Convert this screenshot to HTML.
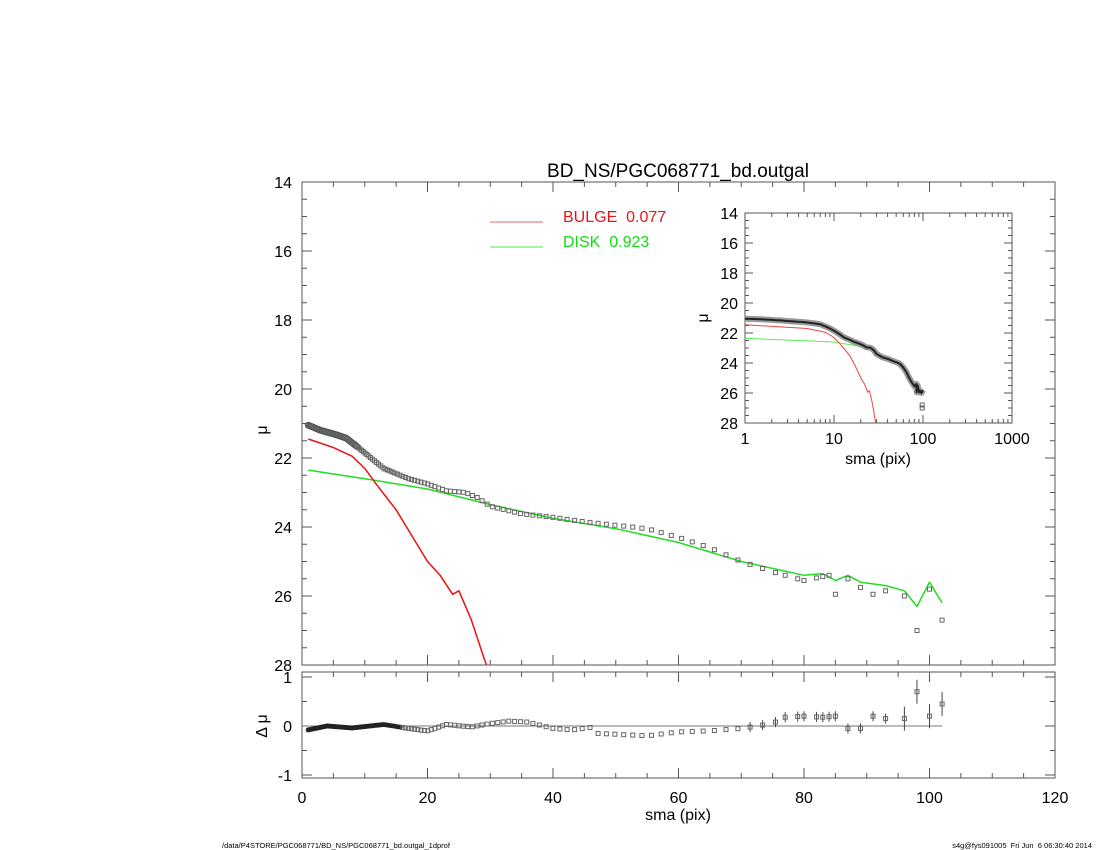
<!DOCTYPE html>
<html><head><meta charset="utf-8"><style>
html,body{margin:0;padding:0;background:#fff}
svg{display:block;font-family:"Liberation Sans",sans-serif}
</style></head><body>
<svg id="s" width="1100" height="850" xmlns="http://www.w3.org/2000/svg">
<rect width="1100" height="850" fill="#fff"/>
<text x="678" y="177" font-size="19" text-anchor="middle">BD_NS/PGC068771_bd.outgal</text>
<line x1="490" y1="222" x2="543" y2="222" stroke="#e66" stroke-width="1"/>
<text x="563" y="222" font-size="16" fill="#e11">BULGE&#160; 0.077</text>
<line x1="490" y1="247" x2="543" y2="247" stroke="#4e4" stroke-width="1"/>
<text x="563" y="247" font-size="16" fill="#1d1">DISK&#160; 0.923</text>
<text x="678" y="820" font-size="16" text-anchor="middle">sma (pix)</text>
<text x="267" y="430" font-size="16" text-anchor="middle" transform="rotate(-90 267 430)">μ</text>
<text x="267" y="726" font-size="16" text-anchor="middle" transform="rotate(-90 267 726)">Δ μ</text>
<text x="878" y="464" font-size="16" text-anchor="middle">sma (pix)</text>
<text x="708" y="318" font-size="16" text-anchor="middle" transform="rotate(-90 708 318)">μ</text>
<text x="222" y="848" font-size="7.5">/data/P4STORE/PGC068771/BD_NS/PGC068771_bd.outgal_1dprof</text>
<text x="1092" y="848" font-size="7.5" text-anchor="end">s4g@fys091005&#160; Fri Jun&#160; 6 06:30:40 2014</text>
<g id="g"></g>
</svg>
<script>
var g=document.getElementById('g'),h='';
function L(x1,y1,x2,y2,c,w){h+='<line x1="'+x1+'" y1="'+y1+'" x2="'+x2+'" y2="'+y2+'" stroke="'+(c||'#555')+'" stroke-width="'+(w||1)+'"/>';}
function T(x,y,t,s,a){h+='<text x="'+x+'" y="'+y+'" font-size="'+s+'" text-anchor="'+(a||'middle')+'">'+t+'</text>';}
function interp(arr,x){for(var i=0;i<arr.length-1;i++){if(x<=arr[i+1][0]){var f=(x-arr[i][0])/(arr[i+1][0]-arr[i][0]);return arr[i][1]+f*(arr[i+1][1]-arr[i][1]);}}return arr[arr.length-1][1];}
var X0=302,XS=(1055-302)/120,Y0=182,YS=(665-182)/14;
function mx(x){return X0+x*XS} function my(y){return Y0+(y-14)*YS}
function rx(v){return 726-49*v}
h+='<rect x="302" y="182" width="753" height="483" fill="none" stroke="#555"/>';
h+='<rect x="302" y="672" width="753" height="106" fill="none" stroke="#555"/>';
for(var x=0;x<=120;x+=5){var M=x%20==0,l=M?10:5;L(mx(x),665,mx(x),665-l);L(mx(x),182,mx(x),182+l);L(mx(x),778,mx(x),778-l);L(mx(x),672,mx(x),672+l);if(M)T(mx(x),803,x,16);}
for(var y=14;y<=28;y+=0.5){var M=y%2==0,l=M?10:5;L(302,my(y),302+l,my(y));L(1055,my(y),1055-l,my(y));if(M)T(292,my(y)+6,y,16,'end');}
for(var v=-1;v<=1;v+=0.5){var M=v%1==0,l=M?10:5;L(302,rx(v),302+l,rx(v));L(1055,rx(v),1055-l,rx(v));if(M)T(292,rx(v)+6,v,16,'end');}
var obs=[[1,21.05],[3,21.2],[5,21.3],[7,21.42],[9,21.7],[11,22.0],[13,22.3],[15,22.45],[17,22.6],[20,22.75],[23,22.95],[26,23.0],[28,23.15],[30,23.4],[35,23.62],[40,23.72],[45,23.85],[50,23.95],[55,24.05],[60,24.3],[65,24.6],[70,25.0],[75,25.3],[80,25.55],[84,25.4],[85,25.95],[87,25.5],[89,25.75],[91,25.95],[93,25.85],[96,26.0],[98,27.0],[100,25.8],[102,26.7]];
var disk=[[1,22.35],[10,22.6],[20,22.9],[30,23.35],[40,23.75],[50,24.05],[60,24.45],[70,25.0],[80,25.4],[83,25.35],[85,25.55],[87,25.4],[89,25.6],[93,25.7],[96,25.85],[98,26.3],[100,25.6],[102,26.2]];
var bul=[[1,21.45],[5,21.7],[8,21.95],[10,22.3],[12,22.8],[15,23.5],[17,24.1],[18,24.4],[20,25.0],[22,25.4],[24,25.95],[25,25.85],[27,26.7],[29,27.8],[29.4,28.0]];
var res=[[1,-0.08],[4,0.0],[8,-0.04],[13,0.03],[17,-0.05],[20,-0.1],[23,0.03],[27,-0.02],[30,0.05],[33,0.1],[36,0.08],[40,-0.05],[43,-0.08],[46,-0.03],[47,-0.15],[55,-0.2],[60,-0.12],[65,-0.1],[70,-0.05],[75,0.05],[77,0.18],[80,0.2],[83,0.18],[85,0.2],[87,-0.05],[89,-0.05],[91,0.2],[93,0.15],[96,0.15],[98,0.7],[100,0.2],[102,0.45]];
function poly(arr,f,g,c,w){var p=arr.map(function(a){return f(a[0]).toFixed(1)+','+g(a[1]).toFixed(1)}).join(' ');h+='<polyline points="'+p+'" fill="none" stroke="'+c+'" stroke-width="'+w+'" stroke-linejoin="round"/>';}
var xs=[],x=1;while(x<=102.01){xs.push(x);x+=Math.max(0.25,0.028*x);}
var big=[84,85,87,89,91,93,96,98,100,102];
xs=xs.filter(function(a){return a<77});[77,79,80,82,83].forEach(function(a){xs.push(a)});big.forEach(function(a){xs.push(a)});
function sq(cx,cy,s){h+='<rect x="'+(cx-s/2).toFixed(1)+'" y="'+(cy-s/2).toFixed(1)+'" width="'+s+'" height="'+s+'" fill="none" stroke="#666" stroke-width="1"/>';}
poly(disk,mx,my,'#2d2',1.5);
poly(bul,mx,my,'#e11',1.5);
xs.forEach(function(a){var v=interp(obs,a);if(a<9){h+='<circle cx="'+mx(a)+'" cy="'+my(v)+'" r="3" fill="#777" stroke="#555"/>';}else sq(mx(a),my(v),4);});
L(302,726,mx(102),726,'#777');
xs.forEach(function(a){var v=interp(res,a);if(a>70){L(mx(a),rx(v)-(a>95?12:5),mx(a),rx(v)+(a>95?12:5),'#444');}if(a<16){h+='<circle cx="'+mx(a)+'" cy="'+rx(v)+'" r="2.5" fill="#222"/>';}else sq(mx(a),rx(v),4);});
var IX0=745,IXS=(1012-745)/3,IY0=213,IYS=(423-213)/14;
function ix(x){return IX0+Math.log10(x)*IXS} function iy(y){return IY0+(y-14)*IYS}
h+='<rect x="745" y="213" width="267" height="210" fill="none" stroke="#555"/>';
for(var d=0;d<3;d++)for(var k=1;k<10;k++){var px=ix(k*Math.pow(10,d)),l=k==1?8:4;L(px,423,px,423-l);L(px,213,px,213+l);}
[1,10,100,1000].forEach(function(a,i){T(ix(a),444,a,16);});
L(ix(1000),423,ix(1000),415);
for(var y=14;y<=28;y+=0.5){var M=y%2==0,l=M?8:4;L(745,iy(y),745+l,iy(y));L(1012,iy(y),1012-l,iy(y));if(M)T(738,iy(y)+6,y,16,'end');}
poly(disk.filter(function(a){return a[0]<=30}),ix,iy,'#5e5',1);
poly(bul,ix,iy,'#e44',1);
var io=xs.map(function(a){return [a,interp(obs,a)]});
poly(io.filter(function(a){return a[0]<=100&&a[1]<26.5}),ix,iy,'#999',6);
poly(io.filter(function(a){return a[0]<=100&&a[1]<26.5}),ix,iy,'#222',2);
sq(ix(98),iy(27.0),4);sq(ix(98),iy(26.8),4);
g.innerHTML=h;
</script>
</body></html>
